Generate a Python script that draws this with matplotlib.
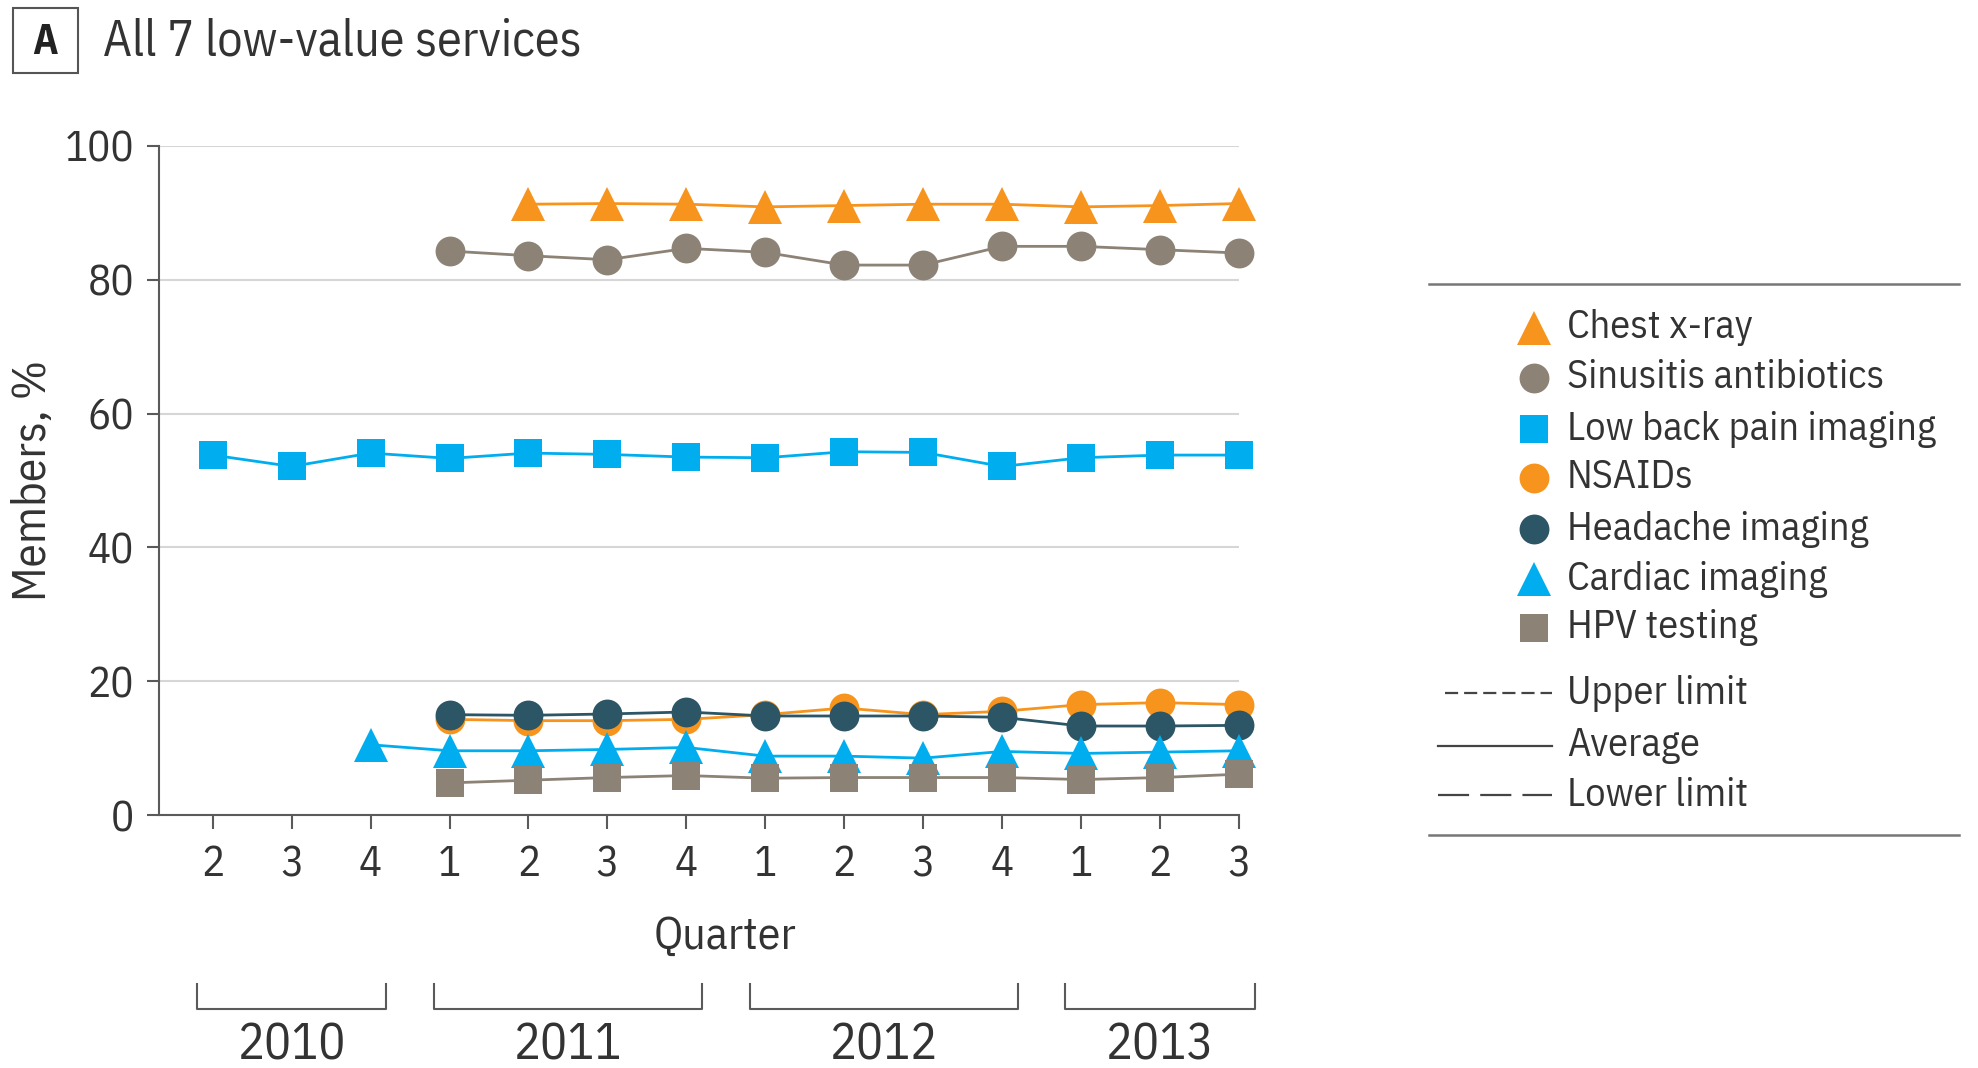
import numpy as np
import matplotlib
matplotlib.use("Agg")
import matplotlib.pyplot as plt
import matplotlib.transforms as mtransforms

plt.rcParams['font.family'] = ['IBM Plex Sans Condensed', 'Liberation Sans', 'DejaVu Sans']

# quarters 2010 Q2 .. 2013 Q3
years = [2010, 2010, 2010, 2011, 2011, 2011, 2011, 2012, 2012, 2012, 2012, 2013, 2013, 2013]
quarters = [2, 3, 4, 1, 2, 3, 4, 1, 2, 3, 4, 1, 2, 3]

nan = np.nan
chest_xray = [nan, nan, nan, nan, 91.3, 91.4, 91.3, 90.9, 91.1, 91.3, 91.3, 90.9, 91.1, 91.4]
sinusitis = [nan, nan, nan, 84.3, 83.6, 83.0, 84.7, 84.1, 82.2, 82.2, 85.0, 85.0, 84.5, 84.0]
low_back = [53.8, 52.1, 54.1, 53.3, 54.1, 53.9, 53.5, 53.4, 54.3, 54.2, 52.1, 53.4, 53.8, 53.8]
nsaids = [nan, nan, nan, 14.3, 14.1, 14.1, 14.3, 15.0, 16.0, 15.0, 15.5, 16.5, 16.8, 16.5]
headache = [nan, nan, nan, 15.0, 14.9, 15.1, 15.4, 14.8, 14.8, 14.8, 14.6, 13.3, 13.3, 13.4]
cardiac = [nan, nan, 10.5, 9.6, 9.6, 9.8, 10.1, 8.8, 8.8, 8.5, 9.5, 9.2, 9.4, 9.6]
hpv = [nan, nan, nan, 4.8, 5.2, 5.6, 5.9, 5.5, 5.6, 5.6, 5.6, 5.3, 5.6, 6.1]

orange = '#F7941D'
taupe = '#8C8276'
cyan = '#00AEEF'
teal = '#2C5565'

series = [
    ("Chest x-ray", chest_xray, orange, '^', 25),
    ("Sinusitis antibiotics", sinusitis, taupe, 'o', 21.5),
    ("Low back pain imaging", low_back, cyan, 's', 19.5),
    ("NSAIDs", nsaids, orange, 'o', 21.5),
    ("Headache imaging", headache, teal, 'o', 21.5),
    ("Cardiac imaging", cardiac, cyan, '^', 25),
    ("HPV testing", hpv, taupe, 's', 19.5),
]

W, H = 1978, 1068
fig = plt.figure(figsize=(W / 100, H / 100), dpi=100)
ax = fig.add_axes([159 / W, 1 - 815 / H, (1239 - 159) / W, (815 - 146) / H])

x = np.arange(len(quarters))
for name, vals, col, mk, ms in series:
    ax.plot(x, vals, color=col, lw=2, marker=mk, markersize=ms,
            markeredgewidth=0, clip_on=False, zorder=3)

ax.set_xlim(-0.68, 13)
ax.set_ylim(0, 100)
ax.set_yticks([0, 20, 40, 60, 80, 100])
ax.set_xticks(x)
ax.set_xticklabels([str(q) for q in quarters])
for yv in [20, 40, 60, 80, 100]:
    ax.axhline(yv, color='#d6d6d6', lw=1.5, zorder=1)
for s in ['top', 'right']:
    ax.spines[s].set_visible(False)
for s in ['left', 'bottom']:
    ax.spines[s].set_color('#5a5a5a')
    ax.spines[s].set_linewidth(1.5)
ax.tick_params(axis='both', colors='#5a5a5a', labelcolor='#333333', width=1.5, labelsize=31)
ax.tick_params(axis='y', length=9, pad=9)
ax.tick_params(axis='x', length=10, pad=11)
ax.set_ylabel("Members, %", fontsize=34, color='#333333', labelpad=7)
ax.set_xlabel("Quarter", fontsize=33, color='#333333')
ax.xaxis.set_label_coords(0.5245, -0.181)
ax.xaxis.label.set_va('center')

# year brackets under the quarter axis
trans = mtransforms.blended_transform_factory(ax.transData, ax.transAxes)
yrs = np.array(years)
for yr in sorted(set(years)):
    idx = np.where(yrs == yr)[0]
    x0, x1 = idx[0] - 0.2, idx[-1] + 0.2
    ax.plot([x0, x0, x1, x1], [-0.253, -0.290, -0.290, -0.253], color='#5a5a5a',
            lw=1.5, transform=trans, clip_on=False)
    ax.text((x0 + x1) / 2, -0.344, str(yr), transform=trans, ha='center', va='center',
            fontsize=36, color='#333333')

# overlay for title and legend, in pixel coordinates
ov = fig.add_axes([0, 0, 1, 1], zorder=-1)
ov.set_xlim(0, W)
ov.set_ylim(H, 0)
ov.axis('off')

ov.add_patch(plt.Rectangle((13, 8), 65, 65, fill=False, ec='#555555', lw=1.5))
ov.text(45.5, 42, "A", ha='center', va='center', fontsize=30, fontweight='bold', color='#222222')
ov.text(103, 42, "All 7 low-value services", ha='left', va='center', fontsize=36, color='#333333')

ov.plot([1429, 1959], [284, 284], color='#777777', lw=1.8)
ov.plot([1429, 1959], [835, 835], color='#777777', lw=1.8)
row_y = [328, 378, 429, 478, 529, 579, 628]
for (name, vals, col, mk, ms), yy in zip(series, row_y):
    ov.plot([1534], [yy], marker=mk, color=col, markersize=ms, markeredgewidth=0)
    ov.text(1567, yy, name, ha='left', va='center', fontsize=29, color='#333333')

line_rows = [("Upper limit", (0, (5.9, 2.7)), 1445, 693),
             ("Average", '-', 1438, 746),
             ("Lower limit", (0, (14, 5)), 1438, 795)]
for name, ls, x0, yy in line_rows:
    ov.plot([x0, 1552], [yy, yy], color='#444444', lw=1.6, linestyle=ls)
    ov.text(1567, yy, name, ha='left', va='center', fontsize=29, color='#333333')

fig.savefig("out.png", dpi=100)
